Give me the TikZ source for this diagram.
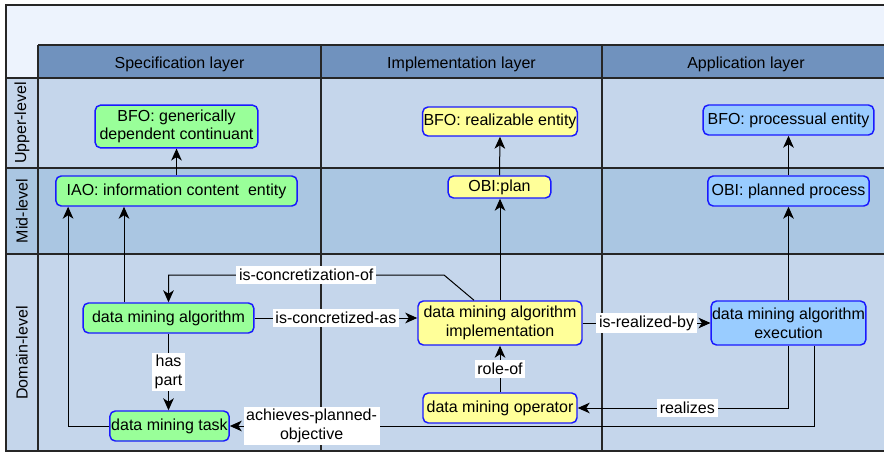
\documentclass[tikz,border=0pt]{standalone}
\usepackage{fontspec}
\setmainfont{Liberation Sans}
\usetikzlibrary{arrows.meta,calc}
\definecolor{framebg}{HTML}{EDF3FD}
\definecolor{headbg}{HTML}{7092BE}
\definecolor{rowlight}{HTML}{C5D6EB}
\definecolor{rowdark}{HTML}{AAC6E2}
\definecolor{specgreen}{HTML}{99FF99}
\definecolor{implyellow}{HTML}{FFFF99}
\definecolor{applblue}{HTML}{99CCFF}
\definecolor{nodeborder}{HTML}{1A1AFF}
\begin{document}
\begin{tikzpicture}
	[x=0.75pt,y=-0.75pt,
	font=\fontsize{12}{14}\selectfont,
	termnode/.style={draw=nodeborder,line width=1.1pt,rounded corners=4pt,inner sep=1pt,align=center},
	specnode/.style={termnode,fill=specgreen},
	implnode/.style={termnode,fill=implyellow},
	applnode/.style={termnode,fill=applblue},
	rel/.style={-{Stealth[length=9pt,width=8pt,inset=2.6pt]},line width=0.75pt},
	rellabel/.style={fill=white,inner sep=2pt,align=center},
	gridline/.style={line width=1.1pt,draw=black!85}]
	\useasboundingbox (0,0) rectangle (884,452);
	\clip (0,0) rectangle (884,452);
	\fill[framebg] (6,5) rectangle (890,451);
	\fill[headbg] (38,45) rectangle (890,78);
	\fill[rowlight] (6,78) rectangle (890,168);
	\fill[rowdark] (6,168) rectangle (890,254);
	\fill[rowlight] (6,254) rectangle (890,451);
	\draw[gridline] (6,5) rectangle (890,451);
	\draw[gridline] (38,45) -- (890,45);
	\foreach \y in {78,168,254}
	{
		\draw[gridline] (6,\y) -- (890,\y);
	}
	\foreach \x in {38,321,602}
	{
		\draw[gridline] (\x,45) -- (\x,451);
	}
	\foreach \x/\t [count=\i] in {179.5/Specification layer,461.5/Implementation layer,746/Application layer}
	{
		\node (layer\i) at (\x,64) {\t};
	}
	\foreach \y/\t [count=\i] in {123/Upper-level,211/Mid-level,353/Domain-level}
	{
		\node[rotate=90] (level\i) at (22,\y) {\t};
	}
	\node[specnode,minimum width=122pt,minimum height=32pt] (gdc) at (176.5,126.5) {BFO: generically\\dependent continuant};
	\node[specnode,minimum width=181pt,minimum height=22.5pt] (iao) at (176.5,191) {IAO: information content\ \ entity};
	\node[implnode,minimum width=116pt,minimum height=21.75pt,inner sep=0pt] (real) at (500,121.5) {BFO: realizable entity};
	\node[implnode,minimum width=77pt,minimum height=16.5pt] (plan) at (499.5,187) {OBI:plan};
	\node[applnode,minimum width=128pt,minimum height=22.5pt] (proc) at (788.5,120) {BFO: processual entity};
	\node[applnode,minimum width=121pt,minimum height=22.5pt] (planned) at (788.5,191) {OBI: planned process};
	\node[specnode,minimum width=128pt,minimum height=22.5pt] (alg) at (168.5,318) {data mining algorithm};
	\node[specnode,minimum width=89pt,minimum height=22.5pt] (task) at (169.5,426) {data mining task};
	\node[implnode,minimum width=123pt,minimum height=33pt] (impl) at (500,323) {data mining algorithm\\implementation};
	\node[implnode,minimum width=115.5pt,minimum height=22.5pt] (oper) at (500,408) {data mining operator};
	\node[applnode,minimum width=116pt,minimum height=33pt,inner sep=0pt] (exec) at (788.5,323) {data mining algorithm\\execution};
	\coordinate (algup) at ($(alg.north)+(-44.5,0)$);
	\coordinate (taskup) at ($(iao.south west)+(13,0)$);
	\coordinate (implup) at ($(impl.north)+(-26,0)$);
	\coordinate (concbend) at (444,275);
	\coordinate (execdown) at ($(exec.south)+(25.5,0)$);
	\draw[rel] (iao.north) -- (gdc.south);
	\draw[rel] (algup) -- (algup |- iao.south);
	\draw[rel] (task.west) -| (taskup);
	\draw[rel] (plan.north) -- (real.south);
	\draw[rel] (impl.north) -- (impl.north |- plan.south);
	\draw[rel] (planned.north) -- (proc.south);
	\draw[rel] (exec.north) -- (exec.north |- planned.south);
	\draw[rel] (implup) -- (concbend) -- node[rellabel]{is-concretization-of} (concbend -| alg.north) -- (alg.north);
	\draw[rel] (alg.east) -- node[rellabel]{is-concretized-as} (alg.east -| impl.west);
	\draw[rel] (alg.south) -- node[rellabel]{has\\part} (alg.south |- task.north);
	\draw[rel] (execdown) |- node[rellabel,pos=0.93]{achieves-planned-\\objective} (task.east);
	\draw[rel] (impl.east) -- node[rellabel]{is-realized-by} (exec.west);
	\draw[rel] (exec.south) |- node[rellabel,pos=0.74]{realizes} (oper.east);
	\draw[rel] (oper.north) -- node[rellabel]{role-of} (impl.south);
\end{tikzpicture}
\end{document}
